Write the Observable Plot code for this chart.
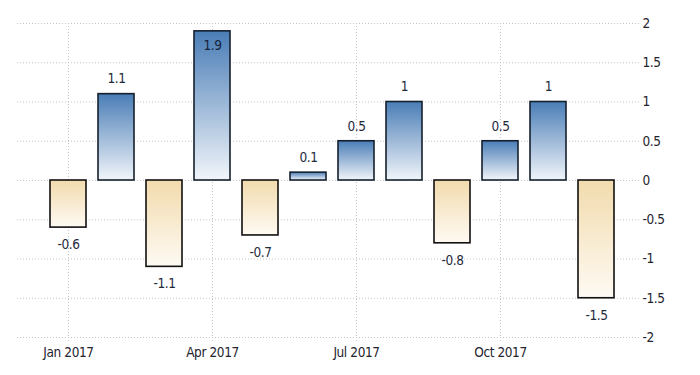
<!DOCTYPE html>
<html><head><meta charset="utf-8">
<script src="https://cdn.jsdelivr.net/npm/d3@7"></script>
<script src="https://cdn.jsdelivr.net/npm/@observablehq/plot@0.6"></script>
<style>html,body{margin:0;padding:0;background:#fff} svg{display:block}</style>
</head><body><div id="chart"></div>
<script>
const months = ["Jan 2017","Feb 2017","Mar 2017","Apr 2017","May 2017","Jun 2017","Jul 2017","Aug 2017","Sep 2017","Oct 2017","Nov 2017","Dec 2017"];
const values = [-0.6, 1.1, -1.1, 1.9, -0.7, 0.1, 0.5, 1, -0.8, 0.5, 1, -1.5];
const xTicks = ["Jan 2017","Apr 2017","Jul 2017","Oct 2017"];
const yTicks = [-2, -1.5, -1, -0.5, 0, 0.5, 1, 1.5, 2];

const data = months.map((m, i) => ({month: m, value: values[i]}));
const pos = data.filter(d => d.value >= 0);
const neg = data.filter(d => d.value < 0);
const FONT = "'DejaVu Sans Condensed','Liberation Sans Narrow','Arial Narrow',sans-serif";

const plot = Plot.plot({
  width: 700, height: 375,
  marginTop: 23, marginBottom: 38, marginLeft: 17, marginRight: 60,
  style: {fontFamily: FONT, fontSize: "13.5px", letterSpacing: "-0.4px", color: "#2a2a36", background: "#fff"},
  x: {domain: months, paddingInner: 0.254, paddingOuter: 0.578, align: 0.554, axis: null},
  y: {domain: [-2, 2], axis: null},
  marks: [
    Plot.gridY(yTicks, {stroke: "#c4c4c4", strokeOpacity: 1, strokeDasharray: "1,2"}),
    Plot.gridX(xTicks, {stroke: "#c4c4c4", strokeOpacity: 1, strokeDasharray: "1,2"}),
    Plot.axisX(xTicks, {tickSize: 6, tickPadding: 4, stroke: "#c4c4c4", strokeDasharray: "1,2", fill: "#24242e", label: null}),
    Plot.axisY(yTicks, {anchor: "right", tickSize: 0, tickPadding: 2, tickFormat: d => String(d), label: null, fill: "#24242e"}),
    Plot.barY(pos, {x: "month", y: "value", fill: "url(#gpos)", stroke: "#14202e", strokeWidth: 1.6}),
    Plot.barY(neg, {x: "month", y: "value", fill: "url(#gneg)", stroke: "#111", strokeWidth: 1.6}),
    Plot.text(pos.filter(d => d.value < 1.8), {x: "month", y: "value", text: d => String(d.value), dy: -15, fill: "#1e2a3c"}),
    Plot.text(pos.filter(d => d.value >= 1.8), {x: "month", y: "value", text: d => String(d.value), dy: 14, fill: "#14233a"}),
    Plot.text(neg, {x: "month", y: "value", text: d => String(d.value), dy: 17, fill: "#1e2a3c"})
  ]
});

const svg = d3.select(plot.tagName === "svg" ? plot : plot.querySelector("svg"));
const defs = svg.insert("defs", ":first-child");
const gp = defs.append("linearGradient").attr("id", "gpos").attr("x1", 0).attr("y1", 0).attr("x2", 0).attr("y2", 1);
gp.append("stop").attr("offset", "0%").attr("stop-color", "#4a7db6");
gp.append("stop").attr("offset", "100%").attr("stop-color", "#f1f5fa");
const gn = defs.append("linearGradient").attr("id", "gneg").attr("x1", 0).attr("y1", 0).attr("x2", 0).attr("y2", 1);
gn.append("stop").attr("offset", "0%").attr("stop-color", "#f2dbad");
gn.append("stop").attr("offset", "100%").attr("stop-color", "#fefaf3");

document.getElementById("chart").append(plot);
</script>
</body></html>
